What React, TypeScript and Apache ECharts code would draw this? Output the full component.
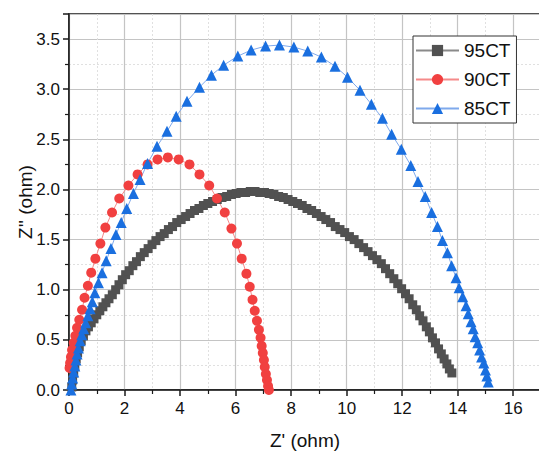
import React, { useEffect, useRef } from "react";
import * as echarts from "echarts";

const seriesNames = ["95CT", "90CT", "85CT"];

const ct95: [number, number][] = [
  [0.10, 0.03], [0.13, 0.10], [0.17, 0.17], [0.21, 0.24], [0.26, 0.31], [0.31, 0.37],
  [0.37, 0.43], [0.44, 0.49], [0.52, 0.54], [0.61, 0.59], [0.70, 0.63], [0.80, 0.67],
  [0.90, 0.71], [1.00, 0.75], [1.11, 0.79], [1.22, 0.83], [1.33, 0.87], [1.44, 0.91],
  [1.56, 0.95], [1.68, 1.00], [1.80, 1.05], [1.92, 1.10], [2.04, 1.15], [2.17, 1.19],
  [2.30, 1.24], [2.43, 1.28], [2.57, 1.33], [2.71, 1.37], [2.85, 1.41], [2.99, 1.45],
  [3.13, 1.49], [3.28, 1.53], [3.43, 1.56], [3.58, 1.60], [3.73, 1.63], [3.88, 1.67],
  [4.04, 1.70], [4.20, 1.73], [4.36, 1.76], [4.52, 1.79], [4.68, 1.81], [4.84, 1.84],
  [5.00, 1.86], [5.17, 1.88], [5.34, 1.90], [5.51, 1.92], [5.68, 1.93], [5.85, 1.95],
  [6.02, 1.96], [6.19, 1.97], [6.36, 1.97], [6.53, 1.98], [6.70, 1.98], [6.87, 1.97],
  [7.04, 1.97], [7.21, 1.96], [7.38, 1.95], [7.55, 1.93], [7.72, 1.92], [7.89, 1.90],
  [8.06, 1.88], [8.23, 1.86], [8.40, 1.84], [8.57, 1.81], [8.74, 1.79], [8.91, 1.76],
  [9.08, 1.73], [9.25, 1.70], [9.42, 1.67], [9.59, 1.63], [9.76, 1.60], [9.93, 1.57],
  [10.10, 1.53], [10.27, 1.50], [10.44, 1.46], [10.61, 1.42], [10.77, 1.38], [10.93, 1.34],
  [11.09, 1.30], [11.25, 1.26], [11.40, 1.21], [11.55, 1.16], [11.70, 1.11], [11.84, 1.06],
  [11.98, 1.01], [12.12, 0.96], [12.25, 0.91], [12.38, 0.85], [12.51, 0.80], [12.63, 0.74],
  [12.75, 0.69], [12.87, 0.63], [12.98, 0.58], [13.09, 0.52], [13.20, 0.47], [13.31, 0.41],
  [13.41, 0.36], [13.51, 0.31], [13.61, 0.26], [13.70, 0.21], [13.79, 0.17],
];

const ct90: [number, number][] = [
  [0.02, 0.22], [0.04, 0.27], [0.07, 0.33], [0.11, 0.40], [0.17, 0.47], [0.23, 0.54],
  [0.29, 0.62], [0.37, 0.70], [0.47, 0.80], [0.56, 0.92], [0.68, 1.04], [0.80, 1.17],
  [0.95, 1.31], [1.13, 1.46], [1.31, 1.62], [1.55, 1.77], [1.81, 1.91], [2.14, 2.04],
  [2.47, 2.15], [2.83, 2.25], [3.19, 2.30], [3.56, 2.32], [3.95, 2.30], [4.34, 2.25],
  [4.70, 2.15], [5.05, 2.04], [5.33, 1.91], [5.61, 1.77], [5.85, 1.61], [6.05, 1.46],
  [6.22, 1.31], [6.39, 1.16], [6.51, 1.03], [6.61, 0.90], [6.69, 0.79], [6.77, 0.69],
  [6.84, 0.60], [6.90, 0.52], [6.94, 0.44], [6.98, 0.37], [7.02, 0.30], [7.05, 0.23],
  [7.09, 0.16], [7.13, 0.10], [7.17, 0.04], [7.20, 0.00],
];

const ct85: [number, number][] = [
  [0.07, 0.00], [0.10, 0.06], [0.13, 0.12], [0.17, 0.18], [0.21, 0.24], [0.25, 0.30],
  [0.29, 0.36], [0.34, 0.42], [0.40, 0.49], [0.46, 0.55], [0.53, 0.61], [0.60, 0.67],
  [0.68, 0.74], [0.76, 0.81], [0.84, 0.88], [0.93, 0.97], [1.06, 1.07], [1.19, 1.17],
  [1.34, 1.29], [1.51, 1.41], [1.69, 1.55], [1.88, 1.67], [2.08, 1.81], [2.32, 1.96],
  [2.56, 2.10], [2.83, 2.26], [3.17, 2.43], [3.53, 2.58], [3.86, 2.73], [4.25, 2.88],
  [4.70, 3.02], [5.13, 3.14], [5.57, 3.24], [6.08, 3.33], [6.56, 3.39], [7.08, 3.43],
  [7.58, 3.44], [8.10, 3.42], [8.60, 3.38], [9.09, 3.32], [9.58, 3.23], [10.03, 3.12],
  [10.48, 2.99], [10.89, 2.85], [11.29, 2.71], [11.62, 2.55], [11.97, 2.40], [12.31, 2.24],
  [12.57, 2.08], [12.83, 1.93], [13.06, 1.77], [13.27, 1.63], [13.45, 1.49], [13.63, 1.37],
  [13.78, 1.24], [13.94, 1.12], [14.05, 1.02], [14.18, 0.93], [14.30, 0.84], [14.38, 0.76],
  [14.48, 0.68], [14.56, 0.61], [14.63, 0.53], [14.72, 0.47], [14.79, 0.40], [14.86, 0.33],
  [14.94, 0.27], [15.00, 0.20], [15.05, 0.14], [15.10, 0.08],
];

const xTickLabels = ["0", "2", "4", "6", "8", "10", "12", "14", "16"];
const yTickLabels = ["0.0", "0.5", "1.0", "1.5", "2.0", "2.5", "3.0", "3.5"];

const FONT = "Arial, 'Liberation Sans', Helvetica, sans-serif";

export default function App() {
  const ref = useRef<HTMLDivElement>(null);

  useEffect(() => {
    if (!ref.current) return;
    const chart = echarts.init(ref.current, undefined, { renderer: "svg" });

    const axisCommon = {
      axisLine: { show: true, onZero: false, lineStyle: { color: "#1a1a1a", width: 1.5 } },
      axisTick: { show: true, inside: false, length: 6, lineStyle: { color: "#1a1a1a", width: 1.5 } },
      minorTick: { show: true, splitNumber: 2, length: 4, lineStyle: { color: "#1a1a1a", width: 1.2 } },
      splitLine: { show: true, lineStyle: { color: "#c4c4c4", width: 1.2 } },
      minorSplitLine: { show: true, lineStyle: { color: "#e0e0e0", width: 1, type: [2, 2] } },
      nameLocation: "middle" as const,
      nameMoveOverlap: false,
      nameTextStyle: { fontFamily: FONT, fontSize: 19, color: "#111" },
    };

    const mkSeries = (
      name: string,
      data: [number, number][],
      symbol: string,
      symbolSize: number,
      color: string,
      lineColor: string
    ) => ({
      name,
      type: "line" as const,
      data,
      symbol,
      symbolSize,
      showSymbol: true,
      itemStyle: { color },
      lineStyle: { color: lineColor, width: 1 },
      emphasis: { disabled: true },
    });

    chart.setOption({
      animation: false,
      backgroundColor: "#ffffff",
      grid: {
        left: 69,
        top: 14,
        width: 472,
        height: 376,
        show: true,
        borderColor: "#1a1a1a",
        borderWidth: 1.5,
        containLabel: false,
        outerBoundsMode: "none",
      },
      legend: {
        data: seriesNames,
        orient: "vertical",
        left: 413,
        top: 36,
        itemWidth: 43,
        itemHeight: 14,
        itemGap: 10,
        padding: [5, 6, 5, 2],
        borderColor: "#333",
        borderWidth: 1,
        backgroundColor: "#ffffff",
        textStyle: { fontFamily: FONT, fontSize: 19, color: "#111" },
        selectedMode: false,
      },
      xAxis: {
        ...axisCommon,
        type: "value",
        min: 0,
        max: 17,
        interval: 2,
        name: "Z' (ohm)",
        nameGap: 41,
        axisLabel: {
          fontFamily: FONT,
          fontSize: 17,
          color: "#111",
          margin: 10,
          showMaxLabel: false,
          formatter: (v: number) => {
            const i = Math.round(v / 2);
            return Math.abs(v - i * 2) < 1e-6 && i < xTickLabels.length ? xTickLabels[i] : "";
          },
        },
      },
      yAxis: {
        ...axisCommon,
        type: "value",
        min: 0,
        max: 3.75,
        interval: 0.5,
        name: "Z'' (ohm)",
        nameGap: 34,
        axisLabel: {
          fontFamily: FONT,
          fontSize: 17,
          color: "#111",
          margin: 9,
          showMaxLabel: false,
          formatter: (v: number) => {
            const i = Math.round(v / 0.5);
            return Math.abs(v - i * 0.5) < 1e-6 && i < yTickLabels.length ? yTickLabels[i] : "";
          },
        },
      },
      series: [
        mkSeries(seriesNames[0], ct95, "rect", 9, "#515151", "#8a8a8a"),
        mkSeries(seriesNames[1], ct90, "circle", 10, "#F14040", "#f58a8a"),
        mkSeries(seriesNames[2], ct85, "triangle", 11, "#1A6FDF", "#7fa9ec"),
      ],
    });

    return () => chart.dispose();
  }, []);

  return (
    <div
      ref={ref}
      style={{ position: "fixed", left: 0, top: 0, width: 539, height: 451 }}
    />
  );
}
